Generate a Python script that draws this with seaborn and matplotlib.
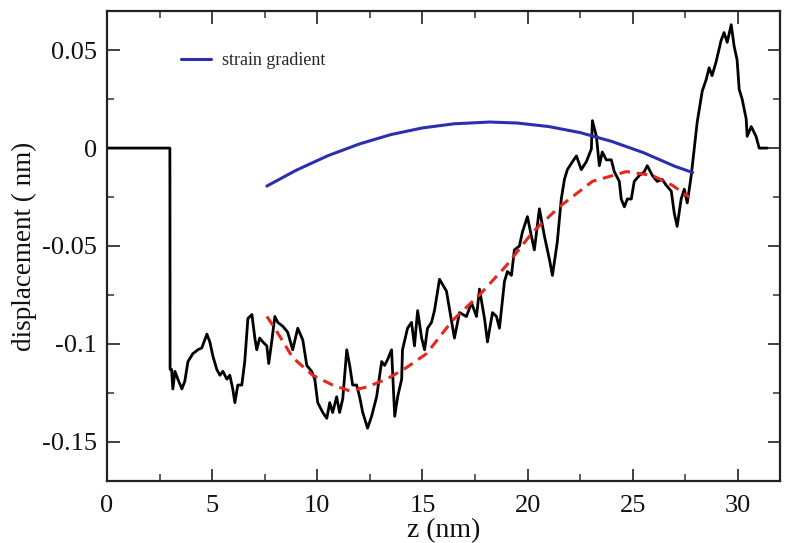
import matplotlib
matplotlib.use("Agg")
import matplotlib.pyplot as plt
import matplotlib.ticker as mticker
import seaborn as sns
import pandas as pd

# ---- data ----
disp_z = [0.0, 2.99, 3.0, 3.07, 3.13, 3.23, 3.37, 3.56, 3.70, 3.85, 4.08, 4.32, 4.51, 4.75, 4.89,
          5.03, 5.22, 5.37, 5.51, 5.70, 5.84, 5.98, 6.08, 6.22, 6.41, 6.55, 6.70, 6.89, 7.03,
          7.12, 7.26, 7.41, 7.60, 7.69, 7.83, 7.98, 8.12, 8.36, 8.59, 8.83, 9.07, 9.31, 9.50,
          9.73, 9.88, 10.02, 10.26, 10.45, 10.59, 10.73, 10.92, 11.06, 11.21, 11.40, 11.54,
          11.68, 11.87, 12.01, 12.16, 12.39, 12.58, 12.82, 13.06, 13.20, 13.34, 13.53, 13.68,
          13.82, 14.01, 14.05, 14.29, 14.48, 14.62, 14.77, 14.96, 15.10, 15.24, 15.43, 15.57,
          15.81, 16.14, 16.52, 16.76, 17.09, 17.33, 17.57, 17.71, 17.95, 18.09, 18.33, 18.52,
          18.66, 18.90, 19.04, 19.23, 19.37, 19.61, 19.75, 19.99, 20.18, 20.32, 20.56, 20.80,
          21.04, 21.18, 21.41, 21.60, 21.75, 21.89, 22.13, 22.32, 22.55, 22.79, 23.03, 23.08,
          23.27, 23.41, 23.55, 23.74, 23.98, 24.12, 24.36, 24.45, 24.60, 24.74, 24.93, 25.07,
          25.31, 25.55, 25.69, 25.93, 26.16, 26.40, 26.59, 26.83, 26.97, 27.11, 27.30, 27.45,
          27.59, 27.78, 27.92, 28.06, 28.30, 28.49, 28.63, 28.77, 28.96, 29.20, 29.34, 29.49,
          29.68, 29.82, 29.96, 30.06, 30.20, 30.39, 30.44, 30.63, 30.86, 31.01, 31.39]
disp_val = [0.0, 0.0, -0.113, -0.113, -0.123, -0.114, -0.118, -0.123, -0.119, -0.109, -0.105,
            -0.103, -0.102, -0.095, -0.099, -0.106, -0.113, -0.116, -0.114, -0.118, -0.116,
            -0.123, -0.130, -0.121, -0.121, -0.109, -0.087, -0.085, -0.097, -0.103, -0.097,
            -0.099, -0.101, -0.110, -0.099, -0.086, -0.089, -0.091, -0.094, -0.103, -0.092,
            -0.098, -0.111, -0.114, -0.118, -0.130, -0.135, -0.138, -0.130, -0.135, -0.127,
            -0.135, -0.128, -0.103, -0.111, -0.121, -0.121, -0.127, -0.135, -0.143, -0.137,
            -0.127, -0.109, -0.111, -0.108, -0.103, -0.137, -0.127, -0.118, -0.103, -0.092,
            -0.089, -0.101, -0.083, -0.097, -0.103, -0.092, -0.089, -0.083, -0.067, -0.073,
            -0.097, -0.084, -0.086, -0.079, -0.086, -0.072, -0.087, -0.099, -0.084, -0.086,
            -0.092, -0.068, -0.063, -0.065, -0.052, -0.050, -0.043, -0.035, -0.045, -0.052,
            -0.031, -0.045, -0.057, -0.065, -0.048, -0.026, -0.016, -0.011, -0.007, -0.004,
            -0.011, -0.007, -0.0005, 0.014, 0.006, -0.009, -0.002, -0.006, -0.006, -0.012,
            -0.017, -0.026, -0.030, -0.026, -0.026, -0.017, -0.014, -0.012, -0.009, -0.014,
            -0.017, -0.016, -0.019, -0.022, -0.033, -0.040, -0.026, -0.021, -0.028, -0.014,
            -0.0005, 0.013, 0.029, 0.035, 0.041, 0.037, 0.044, 0.055, 0.059, 0.054, 0.063,
            0.052, 0.045, 0.030, 0.025, 0.015, 0.006, 0.011, 0.006, 0.0, 0.0]

fit_z = [7.60, 7.98, 8.83, 9.78, 10.73, 11.54, 12.35, 13.30, 14.25, 15.19, 16.43, 17.71,
         18.99, 20.23, 21.51, 23.08, 24.69, 25.93, 26.88, 27.68]
fit_val = [-0.086, -0.092, -0.107, -0.116, -0.121, -0.124, -0.122, -0.118, -0.112, -0.105,
           -0.088, -0.075, -0.060, -0.043, -0.030, -0.017, -0.012, -0.014, -0.019, -0.025]

strain_z = [7.6, 9.0, 10.5, 12.0, 13.5, 15.0, 16.5, 18.2, 19.5, 21.0, 22.5, 24.0, 25.5,
            27.0, 27.85]
strain_val = [-0.0194, -0.0113, -0.0039, 0.0021, 0.0069, 0.0103, 0.0124, 0.0133, 0.0128,
              0.0110, 0.0079, 0.0034, -0.0023, -0.0093, -0.0125]

x_ticks = [0, 5, 10, 15, 20, 25, 30]
y_ticks = [-0.15, -0.1, -0.05, 0, 0.05]
legend_label = "strain gradient"
x_label = "z (nm)"
y_label = "displacement ( nm)"

# ---- plot ----
sns.set_theme(style="ticks")
plt.rcParams["font.family"] = ["Liberation Serif", "DejaVu Serif"]

fig = plt.figure(figsize=(7.9, 5.43), dpi=100)
ax = fig.add_axes([107 / 790, 62 / 543, 673 / 790, 470 / 543])

df_disp = pd.DataFrame({"z": disp_z, "d": disp_val})
df_fit = pd.DataFrame({"z": fit_z, "d": fit_val})
df_strain = pd.DataFrame({"z": strain_z, "d": strain_val})

sns.lineplot(data=df_disp, x="z", y="d", sort=False, estimator=None, ax=ax,
             color="black", linewidth=2.0, legend=False)
sns.lineplot(data=df_fit, x="z", y="d", sort=False, estimator=None, ax=ax,
             color="#e8261e", linewidth=2.2, linestyle=(0, (3.5, 2.2)), legend=False)
sns.lineplot(data=df_strain, x="z", y="d", sort=False, estimator=None, ax=ax,
             color="#2b2fae", linewidth=2.2, label=legend_label)

ax.set_xlim(0, 32)
ax.set_ylim(-0.17, 0.07)
ax.xaxis.set_major_locator(mticker.FixedLocator(x_ticks))
ax.xaxis.set_minor_locator(mticker.MultipleLocator(2.5))
ax.yaxis.set_major_locator(mticker.FixedLocator(y_ticks))
ax.yaxis.set_minor_locator(mticker.MultipleLocator(0.025))
ax.xaxis.set_major_formatter(mticker.FuncFormatter(lambda v, p: "%g" % v))
ax.yaxis.set_major_formatter(mticker.FuncFormatter(lambda v, p: "%g" % round(v, 3)))

ax.tick_params(which="both", direction="in", top=True, right=True, color="#333333")
ax.tick_params(which="major", length=9, width=1.3, labelsize=19, pad=7, labelcolor="#111111")
ax.tick_params(axis="x", which="major", pad=10)
ax.tick_params(which="minor", length=5, width=1.1)
for s in ax.spines.values():
    s.set_linewidth(1.6)
    s.set_color("#222222")

ax.set_xlabel(x_label, fontsize=20, labelpad=1, color="#111111")
ax.set_ylabel(y_label, fontsize=19.5, labelpad=4, color="#111111")

leg = ax.legend(loc="center left", bbox_to_anchor=(0.11, 0.894), frameon=False,
                fontsize=13, handlelength=1.65, handletextpad=0.6, borderpad=0,
                borderaxespad=0)

fig.savefig("out.png", dpi=100, facecolor="white")
